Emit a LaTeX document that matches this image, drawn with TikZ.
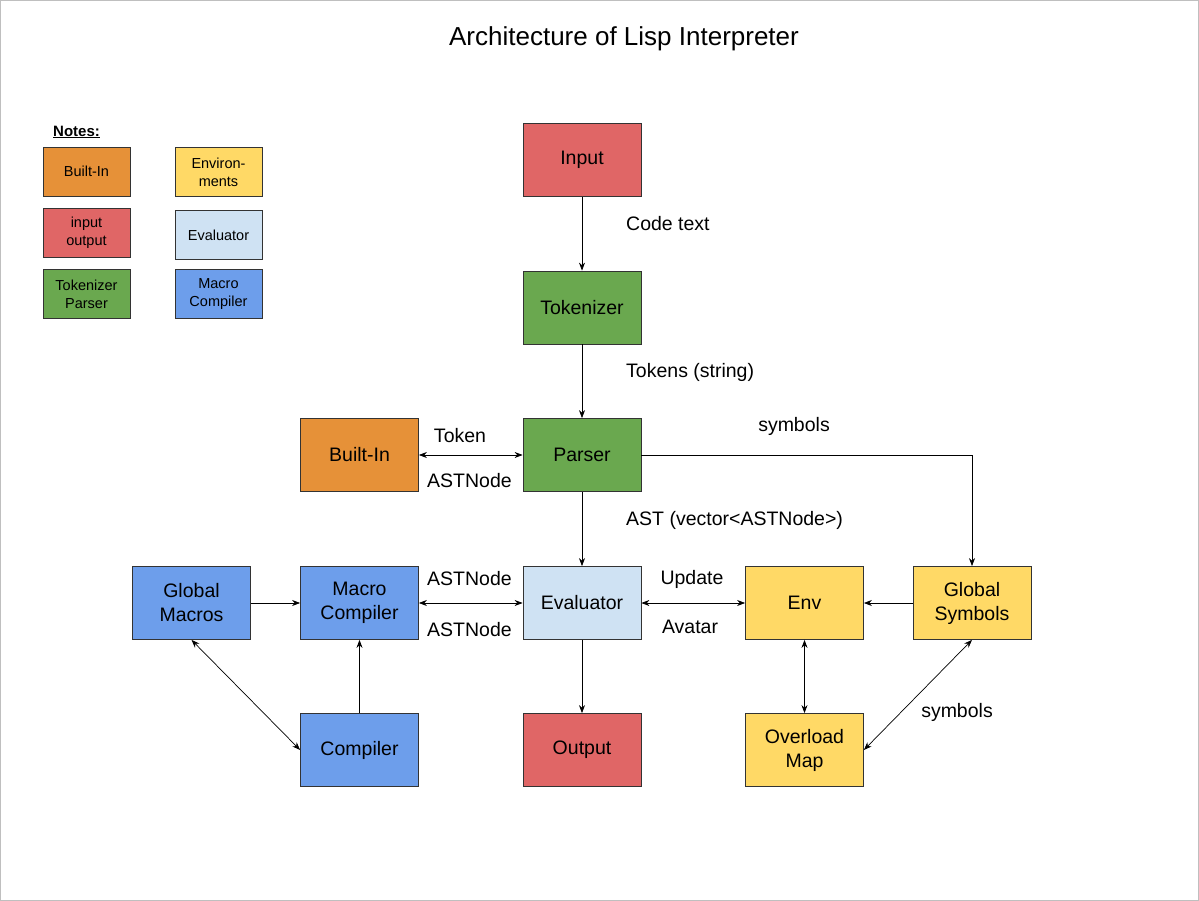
\documentclass[tikz,border=0pt]{standalone}
\usepackage{fontspec}
\setmainfont{Liberation Sans}
\usetikzlibrary{arrows.meta}
\definecolor{bltin}{HTML}{E69138}
\definecolor{inout}{HTML}{E06666}
\definecolor{parse}{HTML}{6AA84F}
\definecolor{envir}{HTML}{FFD966}
\definecolor{evalc}{HTML}{CFE2F3}
\definecolor{macro}{HTML}{6D9EEB}
\begin{document}
\begin{tikzpicture}[x=1pt, y=-1pt,
		blk/.style={draw=black!80, line width=0.8pt, minimum width=118pt, minimum height=73pt, inner sep=0pt, align=center, font=\fontsize{19.5}{24}\selectfont},
		key/.style={draw=black!80, line width=0.8pt, minimum width=87pt, minimum height=49pt, inner sep=0pt, align=center, font=\fontsize{14.5}{18}\selectfont},
		lbl/.style={font=\fontsize{19.5}{23}\selectfont, inner sep=0pt},
		link/.style={line width=0.7pt, -{Stealth[length=8pt,width=6pt]}},
		both/.style={link, {Stealth[length=8pt,width=6pt]}-{Stealth[length=8pt,width=6pt]}}]
	\useasboundingbox (0,0) rectangle (1199,901);
	\fill[white] (0,0) rectangle (1199,901);
	\draw[black!25] (0.5,0.5) rectangle (1198.5,900.5);
	\node[font=\fontsize{26}{30}\selectfont] (title) at (624,39) {Architecture of Lisp Interpreter};
	% legend
	\node[font=\bfseries\fontsize{15}{18}\selectfont, anchor=west, inner sep=0pt] (notes) at (53,132) {\underline{Notes:}};
	\node[key, fill=bltin] (kbltin) at (86.5,171.5) {Built-In};
	\node[key, fill=envir] (kenvir) at (218.5,172) {Environ-\\ments};
	\node[key, fill=inout] (kinout) at (86.5,233) {input\\output};
	\node[key, fill=evalc] (kevalc) at (218.5,235) {Evaluator};
	\node[key, fill=parse] (kparse) at (86.5,294) {Tokenizer\\Parser};
	\node[key, fill=macro] (kmacro) at (218.5,294) {Macro\\Compiler};
	% blocks
	\node[blk, fill=inout] (input) at (582,160) {Input};
	\node[blk, fill=parse] (token) at (582,307.5) {Tokenizer};
	\node[blk, fill=parse] (parser) at (582,455) {Parser};
	\node[blk, fill=bltin] (bltin) at (359.5,455) {Built-In};
	\node[blk, fill=evalc] (eval) at (582,603) {Evaluator};
	\node[blk, fill=inout] (output) at (582,750) {Output};
	\node[blk, fill=macro] (mcomp) at (359.5,603) {Macro\\Compiler};
	\node[blk, fill=macro] (gmacro) at (191.5,603) {Global\\Macros};
	\node[blk, fill=macro] (comp) at (359.5,750) {Compiler};
	\node[blk, fill=envir] (env) at (804.5,603) {Env};
	\node[blk, fill=envir] (gsym) at (972,603) {Global\\Symbols};
	\node[blk, fill=envir] (omap) at (804.5,750) {Overload\\Map};
	% connectors
	\draw[link] (input) -- (token);
	\draw[link] (token) -- (parser);
	\draw[both] (bltin) -- (parser);
	\draw[link] (parser) -- (eval);
	\draw[link] (parser.east) -| (gsym.north);
	\draw[both] (mcomp) -- (eval);
	\draw[both] (eval) -- (env);
	\draw[link] (gsym) -- (env);
	\draw[link] (gmacro) -- (mcomp);
	\draw[link] (comp) -- (mcomp);
	\draw[both] (gmacro.south) -- (comp.west);
	\draw[both] (env) -- (omap);
	\draw[both] (gsym.south) -- (omap.east);
	\draw[link] (eval) -- (output);
	% labels
	\node[lbl, anchor=west] (lcode) at (626,224) {Code text};
	\node[lbl, anchor=west] (ltoks) at (626,372) {Tokens (string)};
	\node[lbl] (ltok) at (460,436) {Token};
	\node[lbl] (lastb) at (469.5,481) {ASTNode};
	\node[lbl, anchor=west] (last) at (626,520) {AST (vector<ASTNode>)};
	\node[lbl] (lsyma) at (794,426) {symbols};
	\node[lbl] (lasta) at (469.5,579) {ASTNode};
	\node[lbl] (lastc) at (469.5,630) {ASTNode};
	\node[lbl] (lupd) at (692,579) {Update};
	\node[lbl] (lava) at (690,627) {Avatar};
	\node[lbl] (lsymb) at (957,712) {symbols};
\end{tikzpicture}
\end{document}
